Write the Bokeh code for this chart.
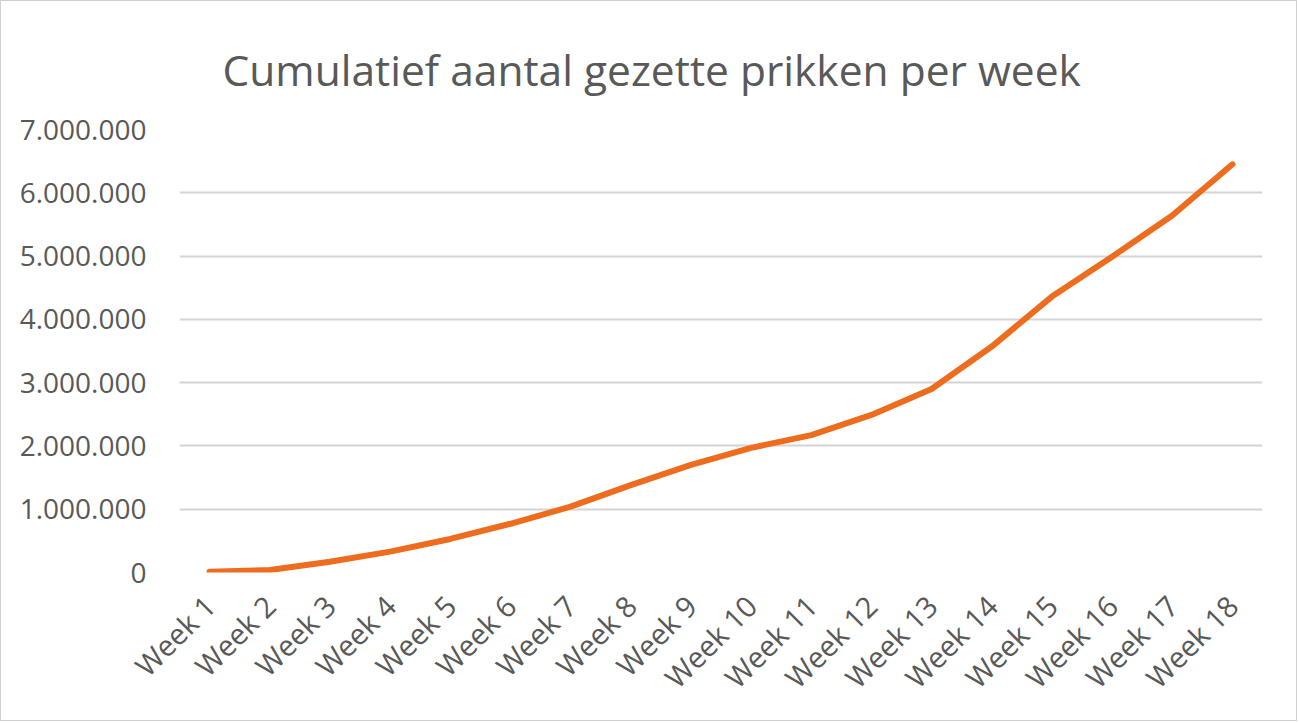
from bokeh.plotting import figure
from bokeh.models import FactorRange, Range1d, CustomJSTickFormatter
from bokeh.embed import file_html
from bokeh.resources import INLINE

weeks = ["Week %d" % i for i in range(1, 19)]
cumulative = [10000, 40000, 170000, 330000, 530000, 770000, 1040000, 1380000, 1700000,
              1970000, 2170000, 2490000, 2900000, 3570000, 4360000, 4990000, 5640000, 6450000]
y_ticks = [0, 1000000, 2000000, 3000000, 4000000, 5000000, 6000000, 7000000]

FONT = "Open Sans"
TEXT = "#595959"

p = figure(width=1297, height=721, x_range=FactorRange(*weeks, range_padding=0),
           y_range=Range1d(0, 7000000), output_backend="svg", toolbar_location=None,
           min_border_left=178, min_border_right=36, min_border_top=128, min_border_bottom=150,
           title="Cumulatief aantal gezette prikken per week")
p.styles = {"border": "1px solid #D0D0D0"}
p.title.align = "left"
p.title.text_font = FONT
p.title.text_font_style = "normal"
p.title.text_font_size = "42.5px"
p.title.text_color = TEXT
p.title.offset = 43
p.title.standoff = 64

p.line(weeks, cumulative, line_color="#EE6C1E", line_width=6, line_join="round", line_cap="round")

p.outline_line_color = None
p.xgrid.grid_line_color = None
p.ygrid.grid_line_color = "#D4D4D4"
p.ygrid.grid_line_width = 2
p.yaxis.ticker = y_ticks
p.yaxis.formatter = CustomJSTickFormatter(code="""
return Math.round(tick).toString().replace(/\\B(?=(\\d{3})+(?!\\d))/g, ".");
""")
for ax in (p.xaxis, p.yaxis):
    ax.axis_line_color = None
    ax.major_tick_line_color = None
    ax.minor_tick_line_color = None
    ax.major_label_text_font = FONT
    ax.major_label_text_color = TEXT
p.yaxis.major_label_text_font_size = "28px"
p.xaxis.major_label_text_font_size = "29px"
p.yaxis.major_label_standoff = 27
p.xaxis.major_label_orientation = 0.7854
p.xaxis.major_label_standoff = 22

open("out.html", "w").write(file_html(p, INLINE))
